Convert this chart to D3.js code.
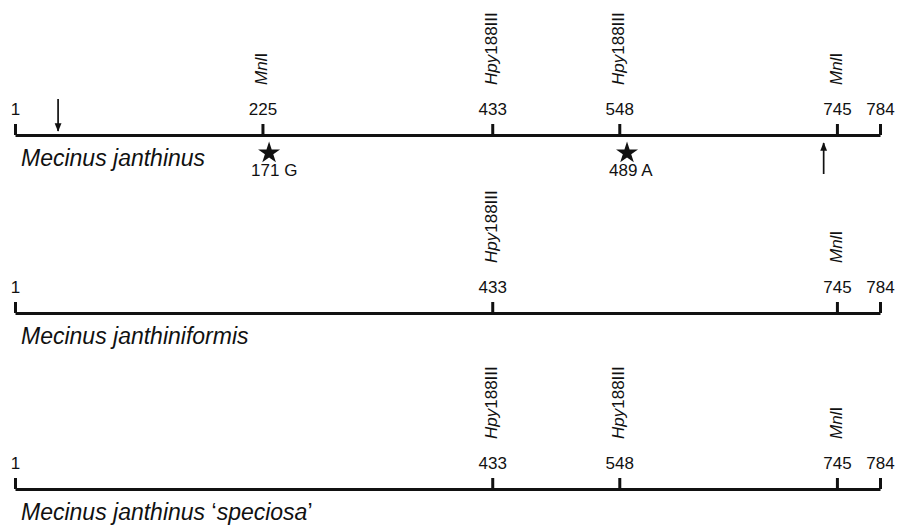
<!DOCTYPE html>
<html>
<head>
<meta charset="utf-8">
<script src="https://cdn.jsdelivr.net/npm/d3@7"></script>
<style>
  body { margin: 0; background: #fff; }
  svg { font-family: "Liberation Sans", Arial, Helvetica, sans-serif; }
  .map-axis .domain { stroke: #111; stroke-width: 3; }
  .map-axis .tick line { stroke: #111; stroke-width: 3; }
  .map-axis .tick text { font-size: 17px; fill: #111; font-family: "Liberation Sans", Arial, sans-serif; }
  .map-enzyme { font-size: 17px; fill: #111; }
  .map-species { font-size: 23px; fill: #111; }
  .map-snp { font-size: 17px; fill: #111; }
  .map-primer { stroke: #111; stroke-width: 1.7; }
</style>
</head>
<body>
<svg id="chart"></svg>
<script>
/* global d3 */
const seqStart = 1;
const seqEnd = 784;

const speciesNames = ['Mecinus janthinus', 'Mecinus janthiniformis', 'Mecinus janthinus speciosa'];
const speciesItalic = [['Mecinus janthinus'], ['Mecinus janthiniformis'], ['Mecinus janthinus ', '\u2018', 'speciosa', '\u2019']];

const sitePositions = [
  [225, 433, 548, 745],
  [433, 745],
  [433, 548, 745],
];
const siteEnzymes = [
  ['MnlI', 'Hpy188III', 'Hpy188III', 'MnlI'],
  ['Hpy188III', 'MnlI'],
  ['Hpy188III', 'Hpy188III', 'MnlI'],
];
// italic genus part + roman suffix of each enzyme name
const enzymeParts = { MnlI: ['Mnl', 'I'], Hpy188III: ['Hpy', '188III'] };

const snpPositions = [231, 555];
const snpLabels = ['171 G', '489 A'];

const primerForward = 40;
const primerReverse = 733;

function render(svgSelector) {
  const totalW = 904, totalH = 527;
  const rowY = [135, 313, 489];

  const svg = d3.select(svgSelector).attr('width', totalW).attr('height', totalH);
  const x = d3.scaleLinear().domain([seqStart, seqEnd]).range([15, 880]);

  svg.append('defs').append('marker')
    .attr('id', 'arrowhead').attr('viewBox', '0 0 10 10')
    .attr('refX', 9).attr('refY', 5).attr('markerWidth', 5).attr('markerHeight', 6)
    .attr('markerUnits', 'strokeWidth').attr('orient', 'auto')
    .append('path').attr('d', 'M0,1L10,5L0,9Z').attr('fill', '#111');

  speciesNames.forEach((name, i) => {
    const g = svg.append('g').attr('transform', `translate(0,${rowY[i]})`);

    g.append('g').attr('class', 'map-axis')
      .call(d3.axisTop(x)
        .tickValues([seqStart, ...sitePositions[i], seqEnd])
        .tickSize(11).tickSizeOuter(0).tickPadding(9)
        .tickFormat(d3.format('d')));

    sitePositions[i].forEach((p, j) => {
      const parts = enzymeParts[siteEnzymes[i][j]];
      const t = g.append('text').attr('class', 'map-enzyme')
        .attr('transform', `translate(${x(p) + 5},-50) rotate(-90)`);
      t.append('tspan').style('font-style', 'italic').text(parts[0]);
      t.append('tspan').text(parts[1]);
    });

    const lab = g.append('text').attr('class', 'map-species').attr('x', 21).attr('y', 31);
    speciesItalic[i].forEach((s) => {
      lab.append('tspan').style('font-style', s === '\u2018' || s === '\u2019' ? 'normal' : 'italic').text(s);
    });

    if (i === 0) {
      g.selectAll('.map-star').data(snpPositions).enter().append('path')
        .attr('class', 'map-star')
        .attr('d', d3.symbol(d3.symbolStar, 150))
        .attr('transform', (d) => `translate(${x(d)},18)`)
        .attr('fill', '#111');
      g.selectAll('.map-snp').data(snpPositions).enter().append('text')
        .attr('class', 'map-snp')
        .attr('x', (d) => x(d) - 18).attr('y', 41)
        .text((d, k) => snpLabels[k]);

      g.append('line').attr('class', 'map-primer')
        .attr('x1', x(primerForward)).attr('x2', x(primerForward))
        .attr('y1', -36).attr('y2', -4).attr('marker-end', 'url(#arrowhead)');
      g.append('line').attr('class', 'map-primer')
        .attr('x1', x(primerReverse)).attr('x2', x(primerReverse))
        .attr('y1', 39).attr('y2', 8).attr('marker-end', 'url(#arrowhead)');
    }
  });
}

render('#chart');
</script>
</body>
</html>
